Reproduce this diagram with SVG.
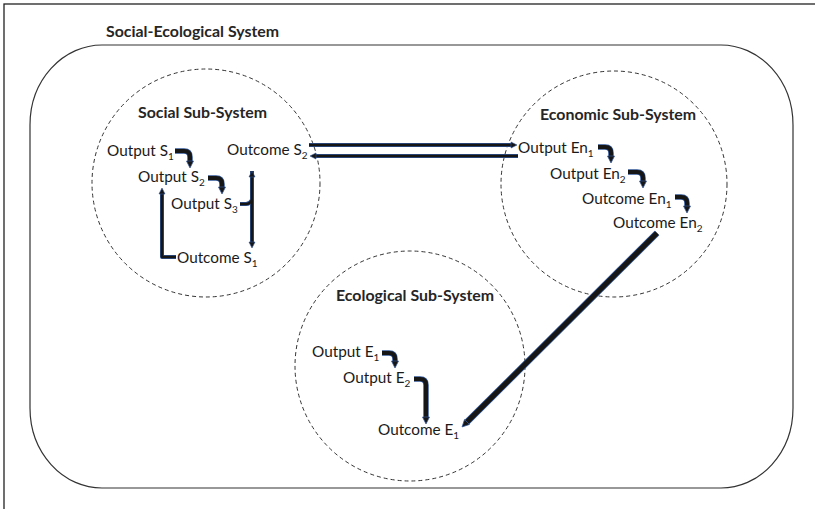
<svg xmlns="http://www.w3.org/2000/svg" width="815" height="509" viewBox="0 0 815 509">
<style>
  .lbl { font-family: Lato, "Liberation Sans", sans-serif; font-size: 15.3px; fill: #1a1a1a; }
  .sub { font-size: 10px; }
  .ttl { font-family: Lato, "Liberation Sans", sans-serif; font-size: 15.9px; font-weight: bold; fill: #262626; }
  .circ { fill: none; stroke: #333; stroke-width: 1; stroke-dasharray: 4 3; }
  .ol { fill: none; stroke: #2f5597; stroke-linejoin: round; }
  .ln { fill: none; stroke: #161616; stroke-linejoin: round; }
</style>
<defs>
  <marker id="ah" viewBox="0 0 10 10" refX="0" refY="5" markerUnits="userSpaceOnUse" markerWidth="7" markerHeight="10" orient="auto" overflow="visible">
    <path d="M0,0 L10,5 L0,10 Z" fill="#161616" stroke="#2f5597" stroke-width="1"/>
  </marker>
  <marker id="ahs" viewBox="0 0 10 10" refX="0" refY="5" markerUnits="userSpaceOnUse" markerWidth="6" markerHeight="8" orient="auto" overflow="visible">
    <path d="M0,0 L10,5 L0,10 Z" fill="#161616" stroke="#2f5597" stroke-width="1"/>
  </marker>
  <marker id="ahst" viewBox="0 0 10 10" refX="10" refY="5" markerUnits="userSpaceOnUse" markerWidth="6" markerHeight="8" orient="auto-start-reverse" overflow="visible">
    <path d="M0,0 L10,5 L0,10 Z" fill="#161616" stroke="#2f5597" stroke-width="1"/>
  </marker>
</defs>
<rect x="4" y="4" width="830" height="530" fill="none" stroke="#222" stroke-width="1.3"/>

<g id="social-ecological-system">
  <rect x="30" y="45" width="763" height="443" rx="72" ry="80" fill="none" stroke="#333" stroke-width="1.2"/>
  <text class="ttl" x="106" y="37">Social-Ecological System</text>
</g>

<g id="social-subsystem">
  <circle class="circ" cx="206" cy="183" r="114"/>
  <text class="ttl" x="138" y="118">Social Sub-System</text>
</g>
<g id="economic-subsystem">
  <circle class="circ" cx="614" cy="184" r="113"/>
  <text class="ttl" x="540" y="120">Economic Sub-System</text>
</g>
<g id="ecological-subsystem">
  <circle class="circ" cx="410" cy="366" r="115"/>
  <text class="ttl" x="336" y="301">Ecological Sub-System</text>
</g>

<g id="output-s1"><text class="lbl" x="107" y="156">Output S<tspan class="sub" dy="4">1</tspan></text></g>
<g id="output-s2"><text class="lbl" x="138" y="182">Output S<tspan class="sub" dy="4">2</tspan></text></g>
<g id="output-s3"><text class="lbl" x="171" y="209">Output S<tspan class="sub" dy="4">3</tspan></text></g>
<g id="outcome-s1"><text class="lbl" x="177" y="263">Outcome S<tspan class="sub" dy="4">1</tspan></text></g>
<g id="outcome-s2"><text class="lbl" x="227" y="155">Outcome S<tspan class="sub" dy="4">2</tspan></text></g>

<g id="output-en1"><text class="lbl" x="518" y="153">Output En<tspan class="sub" dy="4">1</tspan></text></g>
<g id="output-en2"><text class="lbl" x="550" y="179">Output En<tspan class="sub" dy="4">2</tspan></text></g>
<g id="outcome-en1"><text class="lbl" x="582" y="204">Outcome En<tspan class="sub" dy="4">1</tspan></text></g>
<g id="outcome-en2"><text class="lbl" x="613" y="228">Outcome En<tspan class="sub" dy="4">2</tspan></text></g>

<g id="output-e1"><text class="lbl" x="312" y="357">Output E<tspan class="sub" dy="4">1</tspan></text></g>
<g id="output-e2"><text class="lbl" x="343" y="383">Output E<tspan class="sub" dy="4">2</tspan></text></g>
<g id="outcome-e1"><text class="lbl" x="378" y="435">Outcome E<tspan class="sub" dy="4">1</tspan></text></g>

<g id="connectors">
  <g class="ol" stroke-width="5.5">
    <path d="M175,151 H184 Q190,151 190,157 V161"/>
    <path d="M208,178 H216 Q222,178 222,184 V187"/>
    <path d="M598,147 H605 Q611,147 611,153 V156"/>
    <path d="M628,172 H637 Q643,172 643,178 V181"/>
    <path d="M675,197 H681 Q687,197 687,203 V206"/>
    <path d="M382,353 H389 Q395,353 395,359 V361"/>
    <path d="M414,379 H420 Q426,379 426,385 V417"/>
  </g>
  <g class="ln" stroke-width="4">
    <path d="M175,151 H184 Q190,151 190,157 V161" marker-end="url(#ah)"/>
    <path d="M208,178 H216 Q222,178 222,184 V187" marker-end="url(#ah)"/>
    <path d="M598,147 H605 Q611,147 611,153 V156" marker-end="url(#ah)"/>
    <path d="M628,172 H637 Q643,172 643,178 V181" marker-end="url(#ah)"/>
    <path d="M675,197 H681 Q687,197 687,203 V206" marker-end="url(#ah)"/>
    <path d="M382,353 H389 Q395,353 395,359 V361" marker-end="url(#ah)"/>
    <path d="M414,379 H420 Q426,379 426,385 V417" marker-end="url(#ah)"/>
  </g>

  <g class="ol" stroke-width="4">
    <path d="M252,171 V242"/>
    <path d="M240,204 H246 Q250,204 252,200"/>
    <path d="M176,257 H162 V194"/>
    <path d="M309,145 H511"/>
    <path d="M518,156 H316"/>
  </g>
  <g class="ln" stroke-width="2.6">
    <path d="M252,171 V242" marker-start="url(#ahst)" marker-end="url(#ahs)"/>
    <path d="M240,204 H246 Q250,204 252,200"/>
    <path d="M176,257 H162 V194" marker-end="url(#ahs)"/>
    <path d="M309,145 H511" marker-end="url(#ahs)"/>
    <path d="M518,156 H316" marker-end="url(#ahs)"/>
  </g>

  <path class="ol" stroke-width="6.5" d="M657,233 L467,422"/>
  <path class="ln" stroke-width="5" d="M657,233 L467,422" marker-end="url(#ah)"/>
</g>
</svg>
